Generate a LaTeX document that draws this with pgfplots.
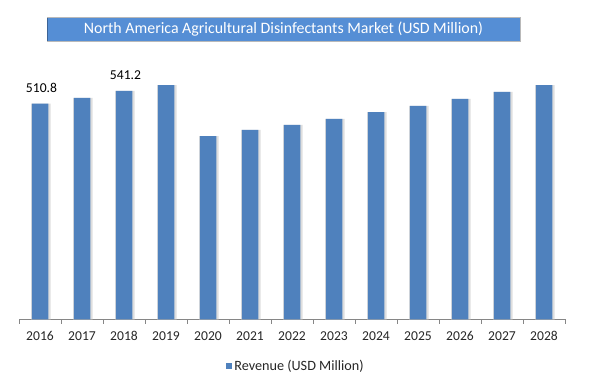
\documentclass[border=0pt]{standalone}
\usepackage{pgfplots}
\pgfplotsset{compat=1.18}
\usepackage{fontspec}
\setmainfont{Carlito}
\definecolor{barblue}{HTML}{4F81BD}
\definecolor{titleblue}{HTML}{558ED5}
\definecolor{axgray}{HTML}{868686}
\begin{document}
\begin{tikzpicture}
\path[use as bounding box] (0,0) rectangle (602pt,385pt);
\begin{axis}[
  at={(19pt,65.5pt)}, anchor=south west,
  scale only axis, width=546pt, height=253.5pt,
  xmin=-0.5, xmax=12.5, ymin=0, ymax=600,
  axis y line=none, axis x line*=bottom,
  x axis line style={draw=axgray},
  xtick={0,...,12},
  xticklabels={2016,2017,2018,2019,2020,2021,2022,2023,2024,2025,2026,2027,2028},
  major tick length=0pt,
  minor xtick={-0.5,0.5,...,12.5},
  minor tick length=4.5pt,
  tick align=outside,
  minor tick style={draw=axgray},
  xticklabel style={font=\fontsize{13.6}{15}\selectfont, text=black!85, anchor=center, yshift=-16.5pt},
  ybar, bar width=16.5pt,
  title={North America Agricultural Disinfectants Market (USD Million)},
  title style={at={(axis description cs:0.4844,1.121)}, anchor=center, yshift=0pt, fill=titleblue, draw=gray!55, text=white, minimum width=473pt, minimum height=23.5pt, inner sep=0pt, font=\fontsize{15.9}{17}\selectfont},
  legend style={at={(axis description cs:0.5073,-0.182)}, anchor=center, draw=none, fill=none, font=\fontsize{14.2}{16}\selectfont, text=black!85, legend cell align=left},
  legend image code/.code={\fill[barblue] (0pt,-3pt) rectangle (6pt,3pt);},
]
\addplot[fill=black!13, draw=none, bar width=19.5pt, bar shift=0.8pt, forget plot] coordinates {
(0,510.8) (1,524.3) (2,541.2) (3,555.0) (4,434.3) (5,449.0) (6,460.4) (7,474.6) (8,491.0) (9,505.4) (10,522.0) (11,538.5) (12,555.0)};
\addplot[fill=barblue, draw=none, bar shift=0pt] coordinates {
(0,510.8) (1,524.3) (2,541.2) (3,555.0) (4,434.3) (5,449.0) (6,460.4) (7,474.6) (8,491.0) (9,505.4) (10,522.0) (11,538.5) (12,555.0)};
\addlegendentry{Revenue (USD Million)}
\addplot[draw=none, fill=none, bar shift=0pt, forget plot, nodes near coords, point meta=explicit symbolic,
  nodes near coords style={anchor=center, yshift=16pt, xshift=1.5pt, font=\fontsize{13.6}{15}\selectfont, text=black}] coordinates {
(0,510.8) [510.8] (2,541.2) [541.2]};
\end{axis}
\draw[draw=titleblue!70!black, line width=1pt] (47.5pt,344pt) -- (47.5pt,367.3pt);
\end{tikzpicture}
\end{document}
